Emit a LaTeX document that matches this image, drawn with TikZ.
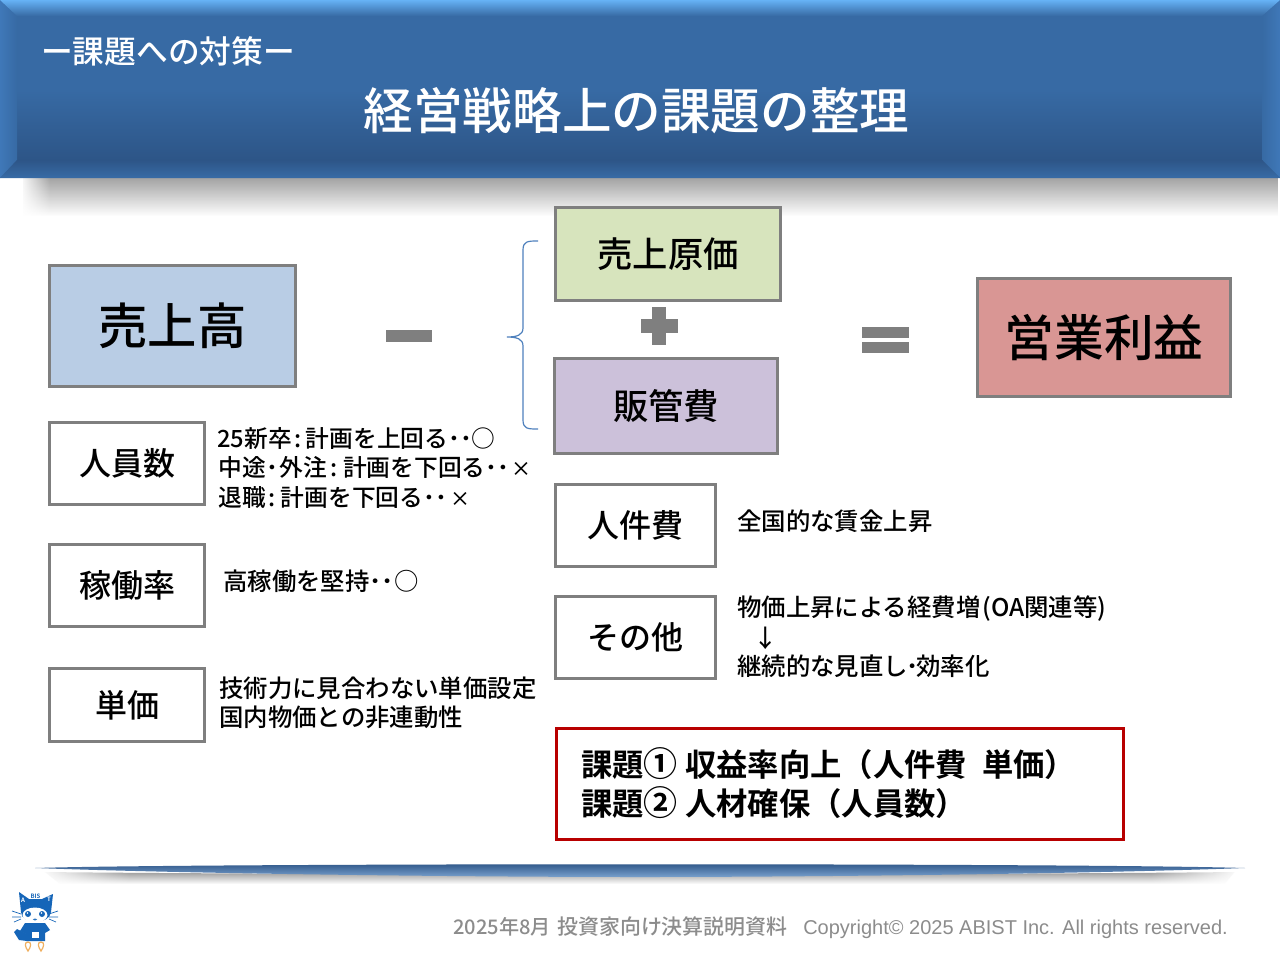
\documentclass[tikz,border=0pt]{standalone}
\usepackage{fontspec}
\setmainfont{Noto Sans CJK JP Medium}[BoldFont={Noto Sans CJK JP Bold}]
\newfontfamily\latinf{Liberation Sans}
\usetikzlibrary{fadings,calc}
\definecolor{frameg}{HTML}{7F7F7F}
\definecolor{hblue}{HTML}{376AA4}
\definecolor{hdark}{HTML}{2D5587}
\definecolor{hlight}{HTML}{66B2F5}
\definecolor{hleft}{HTML}{3F78B8}
\definecolor{footg}{HTML}{8C8C8C}
\definecolor{catb}{HTML}{1565B8}
\definecolor{flame}{HTML}{F0B060}
\definecolor{salesc}{HTML}{B9CDE5}
\definecolor{costc}{HTML}{D7E4BD}
\definecolor{sgac}{HTML}{CCC1DA}
\definecolor{profc}{HTML}{D99694}
\definecolor{bracec}{HTML}{4F81BD}
\definecolor{redc}{HTML}{B80000}
\tikzset{
 x=0.75pt,y=-0.75pt,
 statbox/.style={draw=frameg,line width=2.25pt,inner sep=0pt,text=black,align=center,outer sep=0pt},
 desc/.style={anchor=base west,inner sep=0pt,text=black,font=\fontsize{18.3}{20}\selectfont},
 descs/.style={anchor=base west,inner sep=0pt,text=black,font=\fontsize{17.8}{20}\selectfont},
 issue/.style={anchor=base west,inner sep=0pt,text=black,font=\fontsize{23.5}{26}\selectfont\bfseries},
 op/.style={fill=frameg,draw=none},
 cattxt/.style={inner sep=0pt,font=\fontsize{4.5}{4.5}\selectfont\bfseries},
}
\newcommand{\bx}[8]{% name x0 y0 x1 y1 fill size text
 \node[statbox,fill=#6,minimum width=#4*0.75pt-#2*0.75pt-0.75pt,minimum height=#5*0.75pt-#3*0.75pt-0.75pt,font=\fontsize{#7}{#7}\selectfont] (#1) at ({(#2+#4)/2},{(#3+#5)/2}) {#8};}
\newcommand{\dd}{\textbf{･･}}
\newcommand{\xx}{{\fontsize{15}{15}\selectfont ×}}
\newcommand{\px}[1]{\hspace{\dimexpr #1pt*3/4\relax}}
\newcommand{\bigc}[1]{{\fontsize{25.5}{26}\selectfont #1}}
\tikzfading[name=fadeshadow,top color=transparent!45,bottom color=transparent!100]
\tikzfading[name=fadeshadowb,top color=transparent!45,bottom color=transparent!100]
\begin{document}
\begin{tikzpicture}
\useasboundingbox (0,0) rectangle (1280,960);
\fill[white] (0,0) rectangle (1280,960);
% header shadow
\fill[black!65,path fading=fadeshadow] (24,178) rectangle (1280,216);
\fill[white,path fading=east] (20,178) rectangle (50,216);
% header body
\fill[hblue] (0,0) rectangle (1280,178);
\shade[top color=hblue,bottom color=hdark] (0,90) rectangle (1280,160);
\shade[left color=hleft,right color=hblue] (0,0) -- (17,16) -- (17,160) -- (0,178) -- cycle;
\shade[left color=hblue,right color=hleft] (1280,0) -- (1262,16) -- (1262,160) -- (1280,178) -- cycle;
\shade[top color=hdark,bottom color=hblue!90!hleft] (0,178) -- (17,160) -- (1262,160) -- (1280,178) -- cycle;
\shade[top color=hlight,bottom color=hblue] (0,0) -- (1280,0) -- (1262,16) -- (17,16) -- cycle;
\node[anchor=center,inner sep=0pt,text=white,font=\fontsize{23.8}{26}\selectfont] (sub) at (168,51.5) {ー課題への対策ー};
\node[anchor=center,inner sep=0pt,text=white,font=\fontsize{37.2}{42}\selectfont] (ttl) at (636.5,110.5) {経営戦略上の課題の整理};
% main boxes
\bx{sales}{49}{265}{296}{387}{salesc}{37}{売上高}
\bx{cost}{555}{207}{781}{301}{costc}{26.5}{売上原価}
\bx{sga}{554}{358}{778}{454}{sgac}{26.5}{販管費}
\bx{prof}{977}{278}{1231}{397}{profc}{37.3}{営業利益}
\bx{hc}{49}{422}{205}{505}{white}{24}{人員数}
\bx{util}{49}{544}{205}{627}{white}{24}{稼働率}
\bx{price}{49}{668}{205}{742}{white}{24}{単価}
\bx{lab}{555}{484}{716}{567}{white}{24}{人件費}
\bx{oth}{555}{596}{716}{679}{white}{24}{その他}
% operators
\fill[op] (386,330) rectangle (432,342);
\fill[op] (652,307) rectangle (666,345);
\fill[op] (641,319) rectangle (678,333);
\fill[op] (862,327) rectangle (909,338);
\fill[op] (862,342) rectangle (909,353);
% brace
\draw[bracec,line width=0.9pt] (538,241) .. controls (528,241) and (523,241) .. (523,250) -- (523,328) .. controls (523,335) and (517,337) .. (507,337) .. controls (517,337) and (523,339) .. (523,346) -- (523,420) .. controls (523,429) and (528,429) .. (538,429);
% descriptions
\node[descs] (d1) at (217,447) {25新卒\px{3}:\px{4}計画を上回る\dd ○};
\node[descs] (d2) at (218,476) {中途\px{1}\textbf{･}\px{1}外注\px{3}:\px{6}計画を下回る\dd\px{2}\xx};
\node[descs] (d3) at (218,506) {退職\px{3}:\px{5}計画を下回る\dd\px{4}\xx};
\node[desc] (d4) at (223,590) {高稼働を堅持\dd ○};
\node[desc] (d5) at (219,697) {技術力に見合わない単価設定};
\node[desc] (d6) at (219,726) {国内物価との非連動性};
\node[desc] (d7) at (737,530) {全国的な賃金上昇};
\node[desc] (d8) at (737,616) {物価上昇による経費増\px{2}(OA関連等)};
\node[desc] (d9) at (753,647) {↓};
\node[desc] (d10) at (737,675) {継続的な見直し\px{-2}\textbf{･}\px{-2}効率化};
% issue box
\node[draw=redc,line width=2.25pt,fill=white,minimum width=567*0.75pt,minimum height=111*0.75pt,inner sep=0pt,outer sep=0pt] (iss) at (840,784) {};
\node[issue] (i1) at (581,776) {課題\bigc{①} 収益率向上（人件費\px{8} 単価）};
\node[issue] (i2) at (581,815) {課題\bigc{②} 人材確保（人員数）};
% rule
\fill[black!70,path fading=fadeshadowb] (45,872) .. controls (300,875) and (980,875) .. (1235,872) -- (1225,884) -- (60,884) -- cycle;
\fill[white,path fading=east] (40,870) rectangle (130,886);
\fill[white,path fading=west] (1150,870) rectangle (1240,886);
\shade[top color=hdark,bottom color=hleft!70!white] (35,868) .. controls (200,863) and (1080,863) .. (1245,868) .. controls (1080,874) and (800,877) .. (640,877) .. controls (480,877) and (200,874) .. (35,868) -- cycle;
% footer
\node[anchor=base west,inner sep=0pt,text=footg,font=\fontsize{15.1}{16}\selectfont] (foot) at (453,934) {2025年8月};
\node[anchor=base west,inner sep=0pt,text=footg,font=\fontsize{15.7}{16}\selectfont] (foot2) at (557,934) {投資家向け決算説明資料};
\node[anchor=base west,inner sep=0pt,text=footg,font=\latinf\fontsize{15}{16}\selectfont] (copy) at (803,934) {Copyright© 2025 ABIST Inc. All rights reserved.};
% mascot
\draw[flame,line width=0.9pt,fill=white] (28,942) .. controls (24,942) and (25,947) .. (28,951) .. controls (31,947) and (32,942) .. (28,942) -- cycle;
\draw[flame,line width=0.9pt,fill=white] (41,942) .. controls (37,942) and (38,947) .. (41,951) .. controls (44,947) and (45,942) .. (41,942) -- cycle;
\draw[catb,line width=0.5pt] (12,911) -- (21,914) (12,917) -- (21,917) (14,922) -- (21,919) (49,914) -- (58,911) (49,917) -- (58,917) (49,919) -- (56,922);
\fill[catb] (19,892) -- (29,899) -- (42,899) -- (53,894) -- (51,912) .. controls (50,925) and (21,925) .. (21,912) -- cycle;
\fill[catb] (25,923) -- (45,923) -- (50,930) -- (45,933) -- (45,941) -- (26,941) -- (26,934) -- (20,931) -- cycle;
\fill[catb] (27,934) -- (17,929) -- (14,932) -- (19,940) -- (27,941) -- cycle;
\fill[white] (35,915) ellipse [x radius=12.5,y radius=7.5];
\fill[catb] (28,914) circle [radius=3] (42,914) circle [radius=3];
\fill[white] (27.5,913) circle [radius=0.9] (41.5,913) circle [radius=0.9];
\draw[catb,line width=0.4pt] (33,919) .. controls (34,921) and (35,920) .. (35,918.5) .. controls (35,920) and (36,921) .. (37,919);
\fill[white] (32,932) rectangle (39,938);
\node[cattxt,text=white] (ca) at (23,900) {A};
\node[cattxt,text=catb] (cb) at (35.5,896.5) {BIS};
\node[cattxt,text=white] (ct) at (49,899) {T};
\end{tikzpicture}
\end{document}
